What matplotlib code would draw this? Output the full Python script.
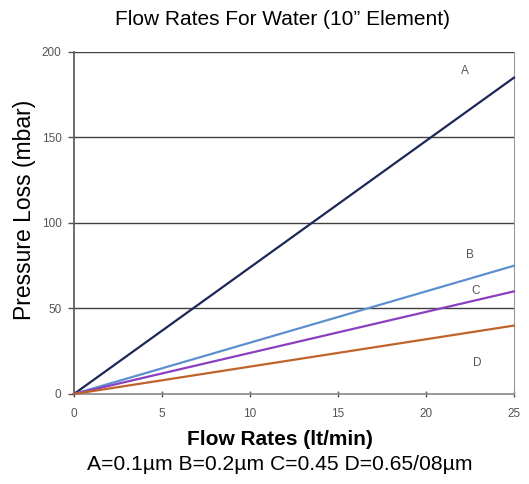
import matplotlib
matplotlib.use("Agg")
import matplotlib.pyplot as plt

plt.rcParams["font.family"] = ["Liberation Sans", "DejaVu Sans"]

series = ["A", "B", "C", "D"]
flow_start = [0, 0, 0, 0]
flow_end = [25, 25, 25, 25]
loss_start = [0, 0, 0, 0]
loss_end = [185, 75, 60, 40]
label_x = [22.2, 22.5, 22.8, 22.9]
label_y = [189, 81, 60, 18]
colors = ["#1c2757", "#5d8fcf", "#8b3fbf", "#c0632b"]
xticks = [0, 5, 10, 15, 20, 25]
yticks = [0, 50, 100, 150, 200]

fig = plt.figure(figsize=(5.29, 4.84), dpi=100)
ax = fig.add_axes([0.1399, 0.186, 0.8317, 0.7066])

for yt in yticks[1:]:
    ax.axhline(yt, color="#404040", lw=1.0, zorder=1)

for s, x0, x1, y0, y1, lx, ly, c in zip(series, flow_start, flow_end, loss_start, loss_end, label_x, label_y, colors):
    ax.plot([x0, x1], [y0, y1], color=c, lw=1.6, zorder=3, clip_on=False)
    ax.text(lx, ly, s, fontsize=8.5, color="#555555", ha="center", va="center")

ax.set_xlim(0, 25)
ax.set_ylim(0, 200)
ax.set_xticks(xticks)
ax.set_yticks(yticks)
ax.tick_params(axis="both", labelsize=8.5, labelcolor="#555555", color="#555555", length=4, width=1)
ax.tick_params(axis="x", direction="inout", pad=8)
ax.tick_params(axis="y", direction="out", pad=5)
ax.spines["top"].set_visible(False)
ax.spines["right"].set_color("#999999")
ax.spines["left"].set_color("#555555")
ax.spines["bottom"].set_color("#888888")
ax.spines["left"].set_linewidth(1.2)
ax.spines["bottom"].set_linewidth(1.2)

fig.text(0.047, 0.566, "Pressure Loss (mbar)", rotation=90, ha="center", va="center", fontsize=16.5)
fig.text(0.534, 0.959, "Flow Rates For Water (10\u201d Element)", ha="center", va="center", fontsize=15)
fig.text(0.529, 0.091, "Flow Rates (lt/min)", ha="center", va="center", fontsize=15, fontweight="bold")
fig.text(0.529, 0.040, "A=0.1\u00b5m B=0.2\u00b5m C=0.45 D=0.65/08\u00b5m", ha="center", va="center", fontsize=15.2)

fig.savefig("out.png", dpi=100)
